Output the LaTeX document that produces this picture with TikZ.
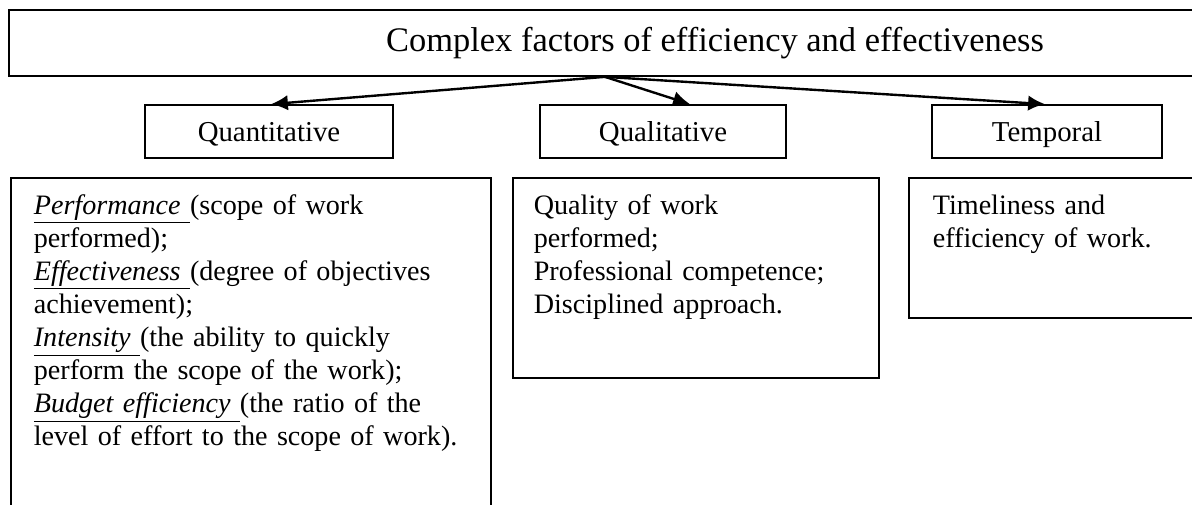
\documentclass[tikz,border=0pt]{standalone}
\usepackage{fontspec}
\setmainfont{Liberation Serif}
\usetikzlibrary{arrows.meta}

\begin{document}
\begin{tikzpicture}[x=0.025cm,y=-0.025cm,line width=1.2pt,
  head/.style={draw, minimum height=1.325cm, text height=18pt, text depth=4pt, font=\fontsize{20.5}{24}\selectfont},
  frame/.style={draw, anchor=north west},
  list/.style={anchor=north west, inner sep=0pt, align=left, font=\fontsize{20}{23.5}\selectfont},
  link/.style={line width=1.7pt, -{Latex[length=12pt,width=11pt]}}]
\useasboundingbox (0,0) rectangle (1192,505);
% title box and the three groups
\node (main) [draw, minimum width=35.3cm, minimum height=1.65cm, font=\fontsize{24.5}{29}\selectfont] at (715,43) {Complex factors of efficiency and effectiveness};
\node (quant) [head, minimum width=6.2cm] at (269,131.5) {Quantitative};
\node (qual) [head, minimum width=6.15cm] at (663,131.5) {Qualitative};
\node (temp) [head, minimum width=5.75cm] at (1047,131.5) {Temporal};
\coordinate (fork) at ([xshift=-2.75cm]main.south);
\draw[link] (fork) -- ([xshift=0.05cm]quant.north);
\draw[link] (fork) -- ([xshift=0.675cm]qual.north);
\draw[link] (fork) -- ([xshift=-0.05cm]temp.north);
% lists
\node (quantbox) [frame, minimum width=12cm, minimum height=9.6cm] at (10,177) {};
\node (qualbox) [frame, minimum width=9.15cm, minimum height=5cm] at (512,177) {};
\node (tempbox) [frame, minimum width=8cm, minimum height=3.5cm] at (908,177) {};
\node (quanttext) [list, text width=11cm] at ([shift={(23,17)}]quantbox.north west) {%
\underline{\textit{Performance}\ }(scope of work\\
performed);\\
\underline{\textit{Effectiveness}\ }(degree of objectives\\
achievement);\\
\underline{\textit{Intensity}\ }(the ability to quickly\\
perform the scope of the work);\\
\underline{\textit{Budget efficiency}\ }(the ratio of the\\
level of effort to the scope of work).};
\node (qualtext) [list, text width=8.5cm] at ([shift={(21,17)}]qualbox.north west) {%
Quality of work\\
performed;\\
Professional competence;\\
Disciplined approach.};
\node (temptext) [list, text width=7cm] at ([shift={(24,17)}]tempbox.north west) {%
Timeliness and\\
efficiency of work.};
\end{tikzpicture}
\end{document}
